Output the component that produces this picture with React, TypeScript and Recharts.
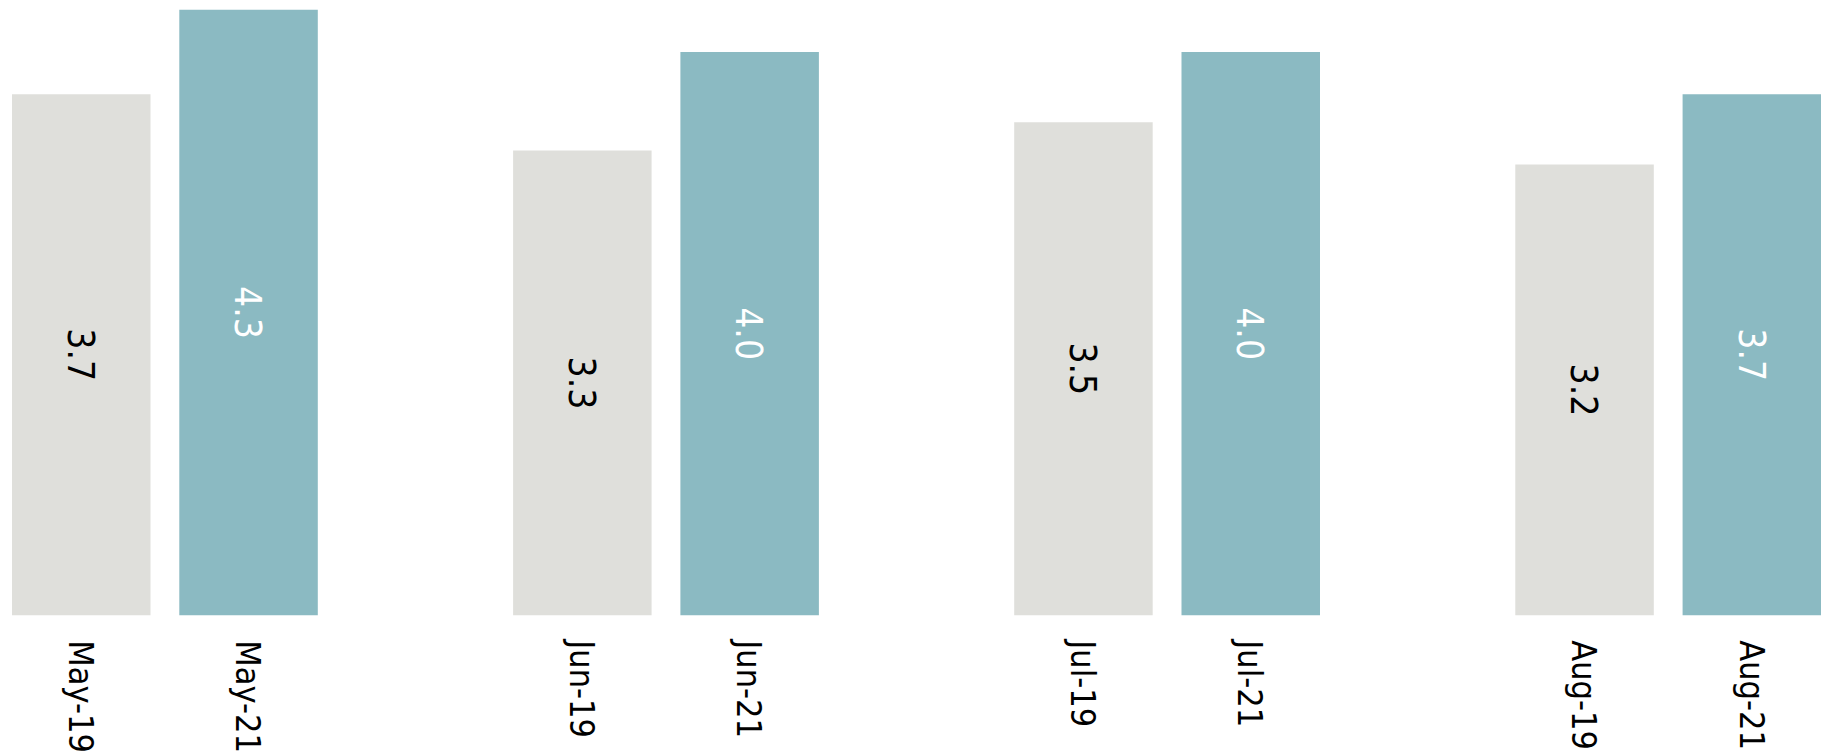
import React from "react";
import { BarChart, Bar, XAxis, YAxis, LabelList } from "recharts";

const months = ["May", "Jun", "Jul", "Aug"];
const labels2019 = ["May-19", "Jun-19", "Jul-19", "Aug-19"];
const labels2021 = ["May-21", "Jun-21", "Jul-21", "Aug-21"];
const values2019 = [3.7, 3.3, 3.5, 3.2];
const values2021 = [4.3, 4.0, 4.0, 3.7];

const data = months.map((m, i) => ({
  month: m,
  label19: labels2019[i],
  label21: labels2021[i],
  y2019: values2019[i],
  y2021: values2021[i],
}));

const FONT = "'DejaVu Sans Condensed', 'DejaVu Sans', sans-serif";
const GREY = "#dfdfdb";
const TEAL = "#8bbac2";

const box = (p: any) => {
  const vb = p.viewBox && p.viewBox.width !== undefined ? p.viewBox : p;
  return { x: Number(vb.x), y: Number(vb.y), w: Number(vb.width), h: Number(vb.height) };
};

// value printed sideways in the middle of each bar
const valueLabel = (color: string, size: number) => (p: any) => {
  const { x, y, w, h } = box(p);
  const cx = x + w / 2;
  const cy = y + h / 2;
  return (
    <g transform={`translate(${cx},${cy}) rotate(90)`}>
      <text
        x={0}
        y={0}
        dy={size * 0.36}
        textAnchor="middle"
        fill={color}
        fontSize={size}
        fontFamily={FONT}
        style={{ fontStretch: "condensed" }}
      >
        {Number(p.value).toFixed(1)}
      </text>
    </g>
  );
};

// period name printed sideways underneath each bar
const nameLabel = (size: number) => (p: any) => {
  const { x, y, w, h } = box(p);
  const cx = x + w / 2;
  const by = y + h + 25;
  return (
    <g transform={`translate(${cx},${by}) rotate(90)`}>
      <text
        x={0}
        y={0}
        dy={size * 0.36}
        textAnchor="start"
        fill="#000"
        fontSize={size}
        fontFamily={FONT}
        style={{ fontStretch: "condensed" }}
      >
        {p.value}
      </text>
    </g>
  );
};

export default function App() {
  return (
    <div
      style={{
        position: "absolute",
        left: 0,
        top: 0,
        width: 1821,
        height: 756,
        overflow: "hidden",
        background: "#fff",
      }}
    >
      <div style={{ marginLeft: -86.5 }}>
        <BarChart
          width={2004.4}
          height={756}
          data={data}
          margin={{ top: 9.7, right: 0, bottom: 140.7, left: 0 }}
          barSize={138.5}
          barGap={28.8}
        >
          <XAxis dataKey="month" hide />
          <YAxis hide domain={[0, 4.3]} />
          <Bar dataKey="y2019" fill={GREY} isAnimationActive={false}>
            <LabelList dataKey="y2019" content={valueLabel("#000", 37)} />
            <LabelList dataKey="label19" content={nameLabel(34)} />
          </Bar>
          <Bar dataKey="y2021" fill={TEAL} isAnimationActive={false}>
            <LabelList dataKey="y2021" content={valueLabel("#fff", 37)} />
            <LabelList dataKey="label21" content={nameLabel(34)} />
          </Bar>
        </BarChart>
      </div>
    </div>
  );
}
